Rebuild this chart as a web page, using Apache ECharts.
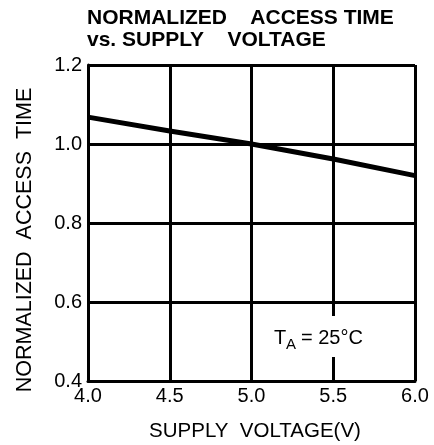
<!DOCTYPE html>
<html>
<head>
<meta charset="utf-8">
<script src="https://cdn.jsdelivr.net/npm/echarts@6/dist/echarts.min.js"></script>
<style>
  html, body { margin: 0; padding: 0; background: #fff; }
  #chart { width: 434px; height: 445px; }
</style>
</head>
<body>
<div id="chart"></div>
<script>
// 数据
const voltage = [4.0, 4.5, 5.0, 5.5, 6.0]
const accessTime = [1.068, 1.033, 1.0, 0.962, 0.92]
const xTicks = [4.0, 4.5, 5.0, 5.5, 6.0]
const yTicks = [0.4, 0.6, 0.8, 1.0, 1.2]

const font = "'Liberation Sans', Arial, sans-serif"

const myChart = echarts.init(document.querySelector('#chart'))
const option = {
  animation: false,
  backgroundColor: '#fff',
  title: {
    text: 'NORMALIZED    ACCESS TIME\nvs. SUPPLY    VOLTAGE',
    left: 87,
    top: 7,
    padding: 0,
    textStyle: {
      fontFamily: font,
      fontSize: 21,
      fontWeight: 'bold',
      color: '#000',
      lineHeight: 22
    }
  },
  grid: {
    left: 88,
    right: 19,
    top: 65,
    bottom: 64
  },
  xAxis: {
    type: 'value',
    min: xTicks[0],
    max: xTicks[xTicks.length - 1],
    interval: 0.5,
    axisLine: { show: true, lineStyle: { color: '#000', width: 3 } },
    axisTick: { show: false },
    axisLabel: {
      color: '#000',
      fontFamily: font,
      fontSize: 20,
      margin: 5,
      formatter: v => v.toFixed(1)
    },
    splitLine: { show: true, lineStyle: { color: '#000', width: 3 } }
  },
  yAxis: {
    type: 'value',
    min: yTicks[0],
    max: yTicks[yTicks.length - 1],
    interval: 0.2,
    axisLine: { show: true, lineStyle: { color: '#000', width: 3 } },
    axisTick: { show: false },
    axisLabel: {
      color: '#000',
      fontFamily: font,
      fontSize: 20,
      margin: 6,
      formatter: v => v.toFixed(1)
    },
    splitLine: { show: true, lineStyle: { color: '#000', width: 3 } }
  },
  graphic: [
    {
      // y轴名称
      type: 'text',
      x: 25,
      y: 240,
      rotation: Math.PI / 2,
      style: {
        text: 'NORMALIZED  ACCESS  TIME',
        fontFamily: font,
        fontSize: 21.5,
        fill: '#000',
        textAlign: 'center',
        textVerticalAlign: 'middle'
      }
    },
    {
      // x轴名称
      type: 'text',
      x: 255,
      y: 431,
      style: {
        text: 'SUPPLY  VOLTAGE(V)',
        fontFamily: font,
        fontSize: 20.5,
        fill: '#000',
        textAlign: 'center',
        textVerticalAlign: 'middle'
      }
    },
    // 温度标注
    {
      type: 'rect',
      z: 100,
      shape: { x: 266, y: 316, width: 108, height: 41 },
      style: { fill: '#fff' }
    },
    {
      type: 'text',
      z: 101,
      x: 274,
      y: 338,
      style: { text: 'T', fontFamily: font, fontSize: 20, fill: '#000', textVerticalAlign: 'middle' }
    },
    {
      type: 'text',
      z: 101,
      x: 286,
      y: 345,
      style: { text: 'A', fontFamily: font, fontSize: 15, fill: '#000', textVerticalAlign: 'middle' }
    },
    {
      type: 'text',
      z: 101,
      x: 301,
      y: 338,
      style: { text: '= 25°C', fontFamily: font, fontSize: 20, fill: '#000', textVerticalAlign: 'middle' }
    }
  ],
  series: [
    {
      type: 'line',
      data: voltage.map((v, i) => [v, accessTime[i]]),
      showSymbol: false,
      lineStyle: { color: '#000', width: 5 },
      z: 5
    }
  ]
}
myChart.setOption(option)
</script>
</body>
</html>
